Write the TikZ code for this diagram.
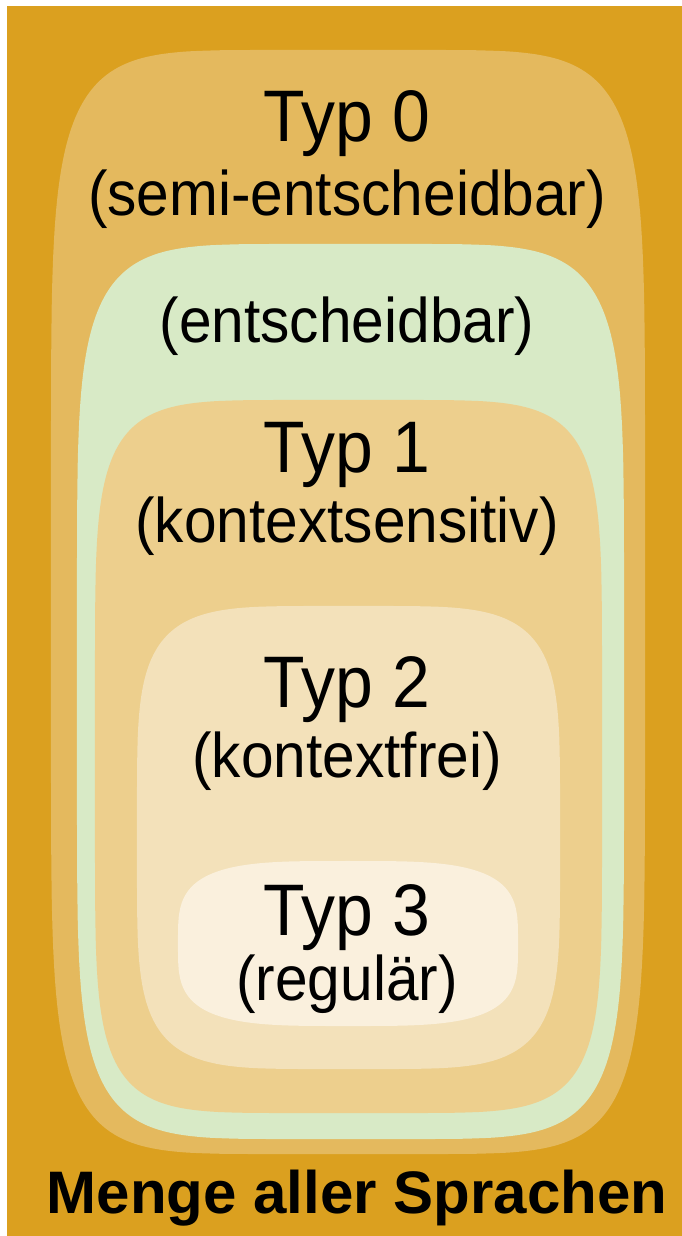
\documentclass[tikz,border=0pt]{standalone}
\usepackage{fontspec}
\setmainfont{Liberation Sans}[FakeStretch=0.93]
\newfontfamily\mengefont{Liberation Sans}
\definecolor{allsprachen}{HTML}{DBA01F}
\definecolor{typnull}{HTML}{E4B95E}
\definecolor{entsch}{HTML}{D8EAC6}
\definecolor{typeins}{HTML}{EDCF8D}
\definecolor{typzwei}{HTML}{F3E1BA}
\definecolor{typdrei}{HTML}{FAF0DD}
% squircle: colour, centre x, centre y, half width, half height, exponent
\newcommand{\blob}[6]{%
  \fill[#1] plot[domain=0.01:89.99,samples=100,variable=\t]
      ({#2+#4*abs(cos(\t))^(2/#6)},{#3+#5*abs(sin(\t))^(2/#6)})
    -- plot[domain=90.01:179.99,samples=100,variable=\t]
      ({#2-#4*abs(cos(\t))^(2/#6)},{#3+#5*abs(sin(\t))^(2/#6)})
    -- plot[domain=180.01:269.99,samples=100,variable=\t]
      ({#2-#4*abs(cos(\t))^(2/#6)},{#3-#5*abs(sin(\t))^(2/#6)})
    -- plot[domain=270.01:359.99,samples=100,variable=\t]
      ({#2+#4*abs(cos(\t))^(2/#6)},{#3-#5*abs(sin(\t))^(2/#6)})
    -- cycle;}

\begin{document}
\begin{tikzpicture}[x=1pt,y=-1pt,
  typ/.style={anchor=base,inner sep=0pt,font=\fontsize{73}{80}\selectfont},
  sub/.style={anchor=base,inner sep=0pt,font=\fontsize{63}{70}\selectfont}]
\useasboundingbox (0,0) rectangle (682,1236);
\fill[allsprachen] (7,6) rectangle (682,1236);

\blob{typnull}{348}{602}{297}{552}{6.5}
\blob{entsch}{350.5}{691.5}{273.5}{447.5}{6}
\blob{typeins}{348.5}{756.5}{253.5}{356.5}{6}
\blob{typzwei}{348.5}{837.5}{211.5}{231.5}{4.8}
\blob{typdrei}{348}{943.5}{170}{82.5}{3.6}

\path
(347,142)  node[typ] (t0) {Typ 0}
(347,215)  node[sub] (t0sub) {(semi-entscheidbar)}
(347,342)  node[sub] (ent) {(entscheidbar)}
(347,472)  node[typ] (t1) {Typ 1}
(347,542)  node[sub] (t1sub) {(kontextsensitiv)}
(347,707)  node[typ] (t2) {Typ 2}
(347,777)  node[sub] (t2sub) {(kontextfrei)}
(347,935)  node[typ] (t3) {Typ 3}
(347,1000) node[sub] (t3sub) {(regulär)};

\node[anchor=base,inner sep=0pt,font=\mengefont\bfseries\fontsize{60}{66}\selectfont]
  (menge) at (357,1213) {Menge aller Sprachen};
\end{tikzpicture}
\end{document}
